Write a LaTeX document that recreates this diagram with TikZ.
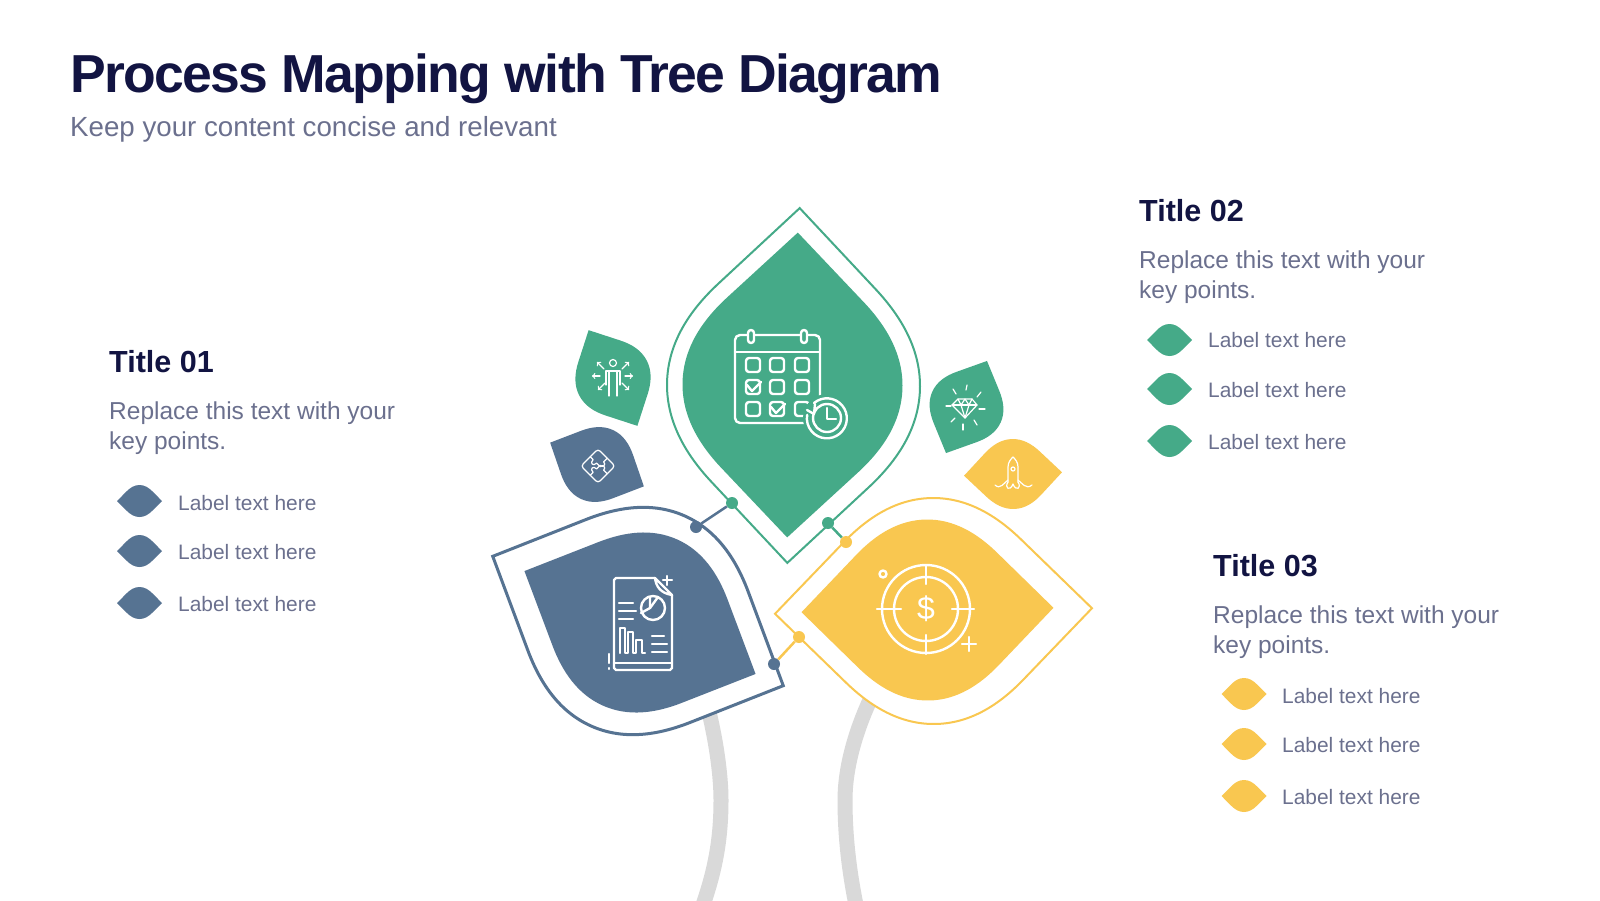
\documentclass[tikz,border=0pt]{standalone}
\usepackage{fontspec}
\usepackage{xcolor}
\usepackage{tikz}
\setmainfont{Liberation Sans}
\newfontfamily\headfont[LetterSpace=-3.1]{Liberation Sans}
\definecolor{leafgreen}{RGB}{69,170,136}
\definecolor{leafblue}{RGB}{86,115,146}
\definecolor{leafyellow}{RGB}{249,199,80}
\definecolor{stemgray}{RGB}{217,217,217}
\definecolor{inknavy}{RGB}{18,20,66}
\definecolor{inkgray}{RGB}{107,112,142}
\newcommand{\leafpath}{(0,-1) -- (0.62,-0.56) .. controls (0.84,-0.404) and (1,-0.22) .. (1,0) .. controls (1,0.22) and (0.84,0.404) .. (0.62,0.56) -- (0,1) -- (-0.62,0.56) .. controls (-0.84,0.404) and (-1,0.22) .. (-1,0) .. controls (-1,-0.22) and (-0.84,-0.404) .. (-0.62,-0.56) -- cycle}

\begin{document}
\begin{tikzpicture}[x=1pt,y=-1pt]
\tikzstyle{every node}+=[inner sep=0pt]
\tikzstyle{headtext}=[anchor=base west,text=inknavy,font=\headfont\bfseries\fontsize{53.5}{60}\selectfont]
\tikzstyle{subtext}=[anchor=base west,text=inkgray,font=\fontsize{27.7}{32}\selectfont]
\tikzstyle{titletext}=[anchor=base west,text=inknavy,font=\bfseries\fontsize{30.5}{36}\selectfont]
\tikzstyle{bodytext}=[anchor=base west,text=inkgray,font=\fontsize{24.5}{30}\selectfont]
\tikzstyle{labeltext}=[anchor=base west,text=inkgray,font=\fontsize{20.9}{26}\selectfont]
\tikzstyle{linedot}=[circle,minimum size=12pt]
\tikzstyle{iconline}=[white,line width=2.4pt,line join=round,line cap=round]
\tikzstyle{iconthin}=[white,line width=1.2pt,line join=round,line cap=round]
\useasboundingbox (0,0) rectangle (1600,900);
\fill [white] (0,0) rectangle (1600,900);
\draw (70,92) node (maintitle) [headtext] {Process Mapping with Tree Diagram};
\draw (70,136) node (mainsub) [subtext] {Keep your content concise and relevant};
\draw (109,372) node (titlea) [titletext] {Title 01};
\draw (109,419) node (bodya) [bodytext] {Replace this text with your};
\draw (109,449) node (bodyb) [bodytext] {key points.};
\draw (178,510) node (labela) [labeltext] {Label text here};
\draw (178,559) node (labelb) [labeltext] {Label text here};
\draw (178,611) node (labelc) [labeltext] {Label text here};
\draw (1139,221) node (titleb) [titletext] {Title 02};
\draw (1139,268) node (bodyc) [bodytext] {Replace this text with your};
\draw (1139,298) node (bodyd) [bodytext] {key points.};
\draw (1208,347) node (labeld) [labeltext] {Label text here};
\draw (1208,397) node (labele) [labeltext] {Label text here};
\draw (1208,449) node (labelf) [labeltext] {Label text here};
\draw (1213,576) node (titlec) [titletext] {Title 03};
\draw (1213,623) node (bodye) [bodytext] {Replace this text with your};
\draw (1213,653) node (bodyf) [bodytext] {key points.};
\draw (1282,703) node (labelg) [labeltext] {Label text here};
\draw (1282,752) node (labelh) [labeltext] {Label text here};
\draw (1282,804) node (labeli) [labeltext] {Label text here};
\fill [leafblue,shift={(139.5,501)},rotate=90,xscale=16,yscale=22.5] \leafpath;
\fill [leafblue,shift={(139.5,551)},rotate=90,xscale=16,yscale=22.5] \leafpath;
\fill [leafblue,shift={(139.5,603)},rotate=90,xscale=16,yscale=22.5] \leafpath;
\fill [leafgreen,shift={(1169.5,340)},rotate=90,xscale=16,yscale=22.5] \leafpath;
\fill [leafgreen,shift={(1169.5,389)},rotate=90,xscale=16,yscale=22.5] \leafpath;
\fill [leafgreen,shift={(1169.5,441)},rotate=90,xscale=16,yscale=22.5] \leafpath;
\fill [leafyellow,shift={(1244,694)},rotate=90,xscale=16,yscale=22.5] \leafpath;
\fill [leafyellow,shift={(1244,744)},rotate=90,xscale=16,yscale=22.5] \leafpath;
\fill [leafyellow,shift={(1244,796)},rotate=90,xscale=16,yscale=22.5] \leafpath;
\draw [stemgray,line width=15pt] (708,708) .. controls (716,740) and (721,775) .. (721,800) .. controls (721,840) and (715,870) .. (703,905);
\draw [stemgray,line width=15pt] (870,700) .. controls (854,735) and (845,770) .. (845,800) .. controls (845,840) and (850,875) .. (856,905);
\draw [leafgreen,fill=white,line width=2pt,shift={(793.5,385.5)},rotate=-2,xscale=126.5,yscale=177.5] \leafpath;
\fill [leafgreen,shift={(792.5,385)},rotate=-2,xscale=110,yscale=152.5] \leafpath;
\draw [leafblue,fill=white,line width=3pt,shift={(638,621)},rotate=66,xscale=115,yscale=159] \leafpath;
\fill [leafblue,shift={(640,622.5)},rotate=66,xscale=91,yscale=126.5] \leafpath;
\draw [leafyellow,fill=white,line width=2pt,shift={(933.5,611)},rotate=91,xscale=113,yscale=158.5] \leafpath;
\fill [leafyellow,shift={(927.5,610)},rotate=91,xscale=90.5,yscale=126] \leafpath;
\fill [leafgreen,shift={(613,378)},rotate=27,xscale=38,yscale=53.7] \leafpath;
\fill [leafblue,shift={(597,464.5)},rotate=65,xscale=38,yscale=51.7] \leafpath;
\fill [leafgreen,shift={(966.5,407)},rotate=-24,xscale=37.5,yscale=50.4] \leafpath;
\fill [leafyellow,shift={(1013,474)},rotate=92,xscale=35,yscale=49] \leafpath;
\draw (732,503) node (greendota) [linedot,fill=leafgreen] {};
\draw (696,527) node (bluedota) [linedot,fill=leafblue] {};
\draw (828,523) node (greendotb) [linedot,fill=leafgreen] {};
\draw (846,542) node (yellowdota) [linedot,fill=leafyellow] {};
\draw (774,664) node (bluedotb) [linedot,fill=leafblue] {};
\draw (799,637) node (yellowdotb) [linedot,fill=leafyellow] {};
\draw [leafblue,line width=2.5pt] (bluedota) -- (greendota);
\draw [leafgreen,line width=2.5pt] (greendotb) -- (yellowdota);
\draw [leafyellow,line width=2.5pt] (bluedotb) -- (yellowdotb);
\draw [iconline,rounded corners=5pt] (735,335) rectangle (820,423);
\draw [iconline] (735,352) -- (820,352);
\draw [iconline,fill=leafgreen,rounded corners=3pt] (748,330) rectangle (754,343);
\draw [iconline,fill=leafgreen,rounded corners=3pt] (801,330) rectangle (807,343);
\draw [iconline,rounded corners=3pt] (746,358) rectangle (760,372);
\draw [iconline,rounded corners=3pt] (770,358) rectangle (784,372);
\draw [iconline,rounded corners=3pt] (795,358) rectangle (809,372);
\draw [iconline,rounded corners=3pt] (746,380) rectangle (760,394);
\draw [iconline,rounded corners=3pt] (770,380) rectangle (784,394);
\draw [iconline,rounded corners=3pt] (795,380) rectangle (809,394);
\draw [iconline,rounded corners=3pt] (746,402) rectangle (760,416);
\draw [iconline,rounded corners=3pt] (770,402) rectangle (784,416);
\draw [iconline,rounded corners=3pt] (795,402) rectangle (809,416);
\draw [iconline] (747,385) -- (752,391) -- (761,382);
\draw [iconline] (771,407) -- (776,413) -- (785,404);
\fill [leafgreen] (827,418) circle (24);
\draw [iconline] (827,418) circle (14);
\draw [iconline] (814,403) arc (130:-190:20pt);
\draw [iconline] (807,410) -- (814,414) -- (815,404);
\draw [iconline] (827,408) -- (827,419) -- (836,419);
\draw [iconthin] (613,363) circle (3.5);
\draw [iconthin] (606,385) -- (606,371) -- (620,371) -- (620,385);
\draw [iconthin] (609,371) -- (609,396);
\draw [iconthin] (617,371) -- (617,396);
\draw [iconthin,->] (600,376) -- (592,376);
\draw [iconthin,->] (625,376) -- (633,376);
\draw [iconthin,->] (604,369) -- (597,362);
\draw [iconthin,->] (622,369) -- (629,362);
\draw [iconthin,->] (605,383) -- (598,390);
\draw [iconthin,->] (622,383) -- (629,390);
\draw [iconthin,rounded corners=3pt,shift={(598,466)},rotate=45] (-12,-12) rectangle (12,12);
\draw [iconthin,shift={(598,466)},rotate=45] (-12,1) -- (-8,1) .. controls (-8,-4) and (-3,-4) .. (-3,1) -- (2,1) .. controls (2,5) and (7,5) .. (7,1) -- (12,1);
\draw [iconthin,shift={(598,466)},rotate=45] (1,-12) -- (1,-8) .. controls (-4,-8) and (-4,-3) .. (1,-3) -- (1,2) .. controls (5,2) and (5,7) .. (1,7) -- (1,12);
\draw [iconthin] (958,399) -- (972,399) -- (977,405) -- (965,418) -- (952,405) -- cycle;
\draw [iconthin] (952,405) -- (977,405);
\draw [iconthin] (958,399) -- (961,405) -- (965,418) -- (969,405) -- (972,399);
\draw [iconthin] (961,405) -- (965,399) -- (969,405);
\draw [iconthin] (967,385) -- (966,390);
\draw [iconthin] (953,389) -- (956,394);
\draw [iconthin] (981,392) -- (977,397);
\draw [iconthin] (946,406) -- (951,406);
\draw [iconthin] (979,409) -- (985,409);
\draw [iconthin] (951,422) -- (955,418);
\draw [iconthin] (963,424) -- (963,430);
\draw [iconthin] (974,420) -- (977,425);
\draw [iconthin] (1008,482) -- (1008,467) .. controls (1008,462) and (1011,459) .. (1013,457) .. controls (1015,459) and (1018,462) .. (1018,467) -- (1018,482);
\draw [iconthin] (1013,469) circle (2);
\draw [iconthin] (995,485) .. controls (1000,490) and (1004,483) .. (1008,480);
\draw [iconthin] (1032,485) .. controls (1026,490) and (1022,483) .. (1018,480);
\draw [iconthin] (1008,482) .. controls (1004,488) and (1010,492) .. (1013,484) .. controls (1016,492) and (1022,488) .. (1018,482);
\draw [iconline] (655,578) -- (616,578) -- (614,580) -- (614,668) -- (616,670) -- (670,670) -- (672,668) -- (672,595);
\draw [iconline] (655,578) .. controls (656,586) and (660,593) .. (672,595) -- cycle;
\draw [iconline] (614,663) -- (672,663);
\draw [iconline] (667,576) -- (667,585);
\draw [iconline] (663,580) -- (672,580);
\draw [iconline] (619,603) -- (633,603);
\draw [iconline] (619,611) -- (636,611);
\draw [iconline] (619,619) -- (633,619);
\draw [iconline] (653,608) circle (12);
\draw [iconline] (650,597) -- (650,608) -- (641,613);
\draw [iconline] (650,608) -- (658,597);
\draw [iconline] (620,653) -- (620,628) -- (625,628) -- (625,653) -- (628,653) -- (628,632) -- (633,632) -- (633,653) -- (636,653) -- (636,640) -- (642,640) -- (642,653) -- (645,653);
\draw [iconline] (652,636) -- (664,636);
\draw [iconline] (652,644) -- (667,644);
\draw [iconline] (652,652) -- (667,652);
\draw [iconline] (609,654) -- (609,663);
\draw [iconline] (609,668) -- (609,669);
\draw [iconline] (926,609) circle (44);
\draw [iconline] (926,609) circle (32);
\draw [iconline] (926,565) -- (926,584);
\draw [iconline] (926,635) -- (926,654);
\draw [iconline] (877,609) -- (901,609);
\draw [iconline] (952,609) -- (974,609);
\draw [iconline] (883,574) circle (3.5);
\draw [iconline] (969,637) -- (969,651);
\draw [iconline] (962,644) -- (976,644);
\draw (926,609) node (dollar) [text=white,font=\fontsize{32}{32}\selectfont] {\$};
\end{tikzpicture}
\end{document}
